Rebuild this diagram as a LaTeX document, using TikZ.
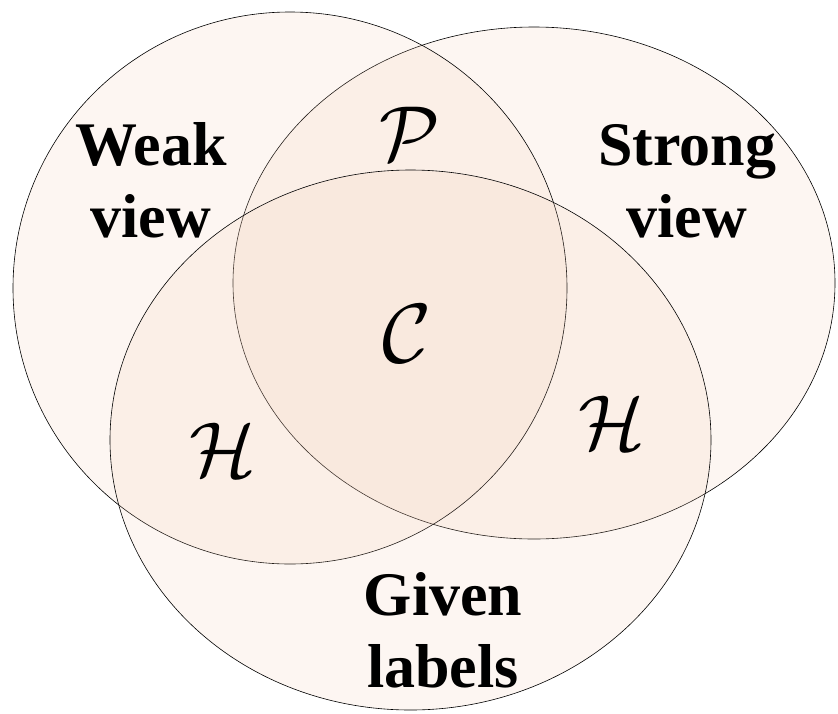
\documentclass[tikz,border=0pt]{standalone}
\usepackage{fontspec}
\setmainfont{Liberation Serif}
\definecolor{peach}{RGB}{240,200,175}
\newcommand{\bigcal}[2]{\scalebox{#1}{$\mathcal{#2}$}}
\begin{document}
\begin{tikzpicture}[x=1pt,y=-1pt,
  setshape/.style={draw=black,line width=0.6pt,fill=peach,fill opacity=0.16,draw opacity=1},
  bigword/.style={font=\bfseries\fontsize{62}{72}\selectfont,align=center,inner sep=0pt,text opacity=1},
  calsym/.style={inner sep=0pt}]
\useasboundingbox (0,0) rectangle (838,713);
\path[setshape] (534,283) ellipse [x radius=301pt, y radius=256pt];
\path[setshape] (290,288) ellipse [x radius=277pt, y radius=276pt];
\path[setshape] (410.5,440) ellipse [x radius=300.5pt, y radius=270pt];
\node[bigword] (weak) at (151,180) {Weak\\view};
\node[bigword] (strong) at (687,181) {Strong\\view};
\node[bigword] (given) at (443,630) {Given\\labels};
\node[calsym] (p) at (410,134) {\bigcal{7.8}{P}};
\node[calsym] (c) at (407,334) {\bigcal{8.4}{C}};
\node[calsym] (hl) at (223,450) {\bigcal{7.8}{H}};
\node[calsym] (hr) at (612,423) {\bigcal{7.8}{H}};
\end{tikzpicture}
\end{document}
